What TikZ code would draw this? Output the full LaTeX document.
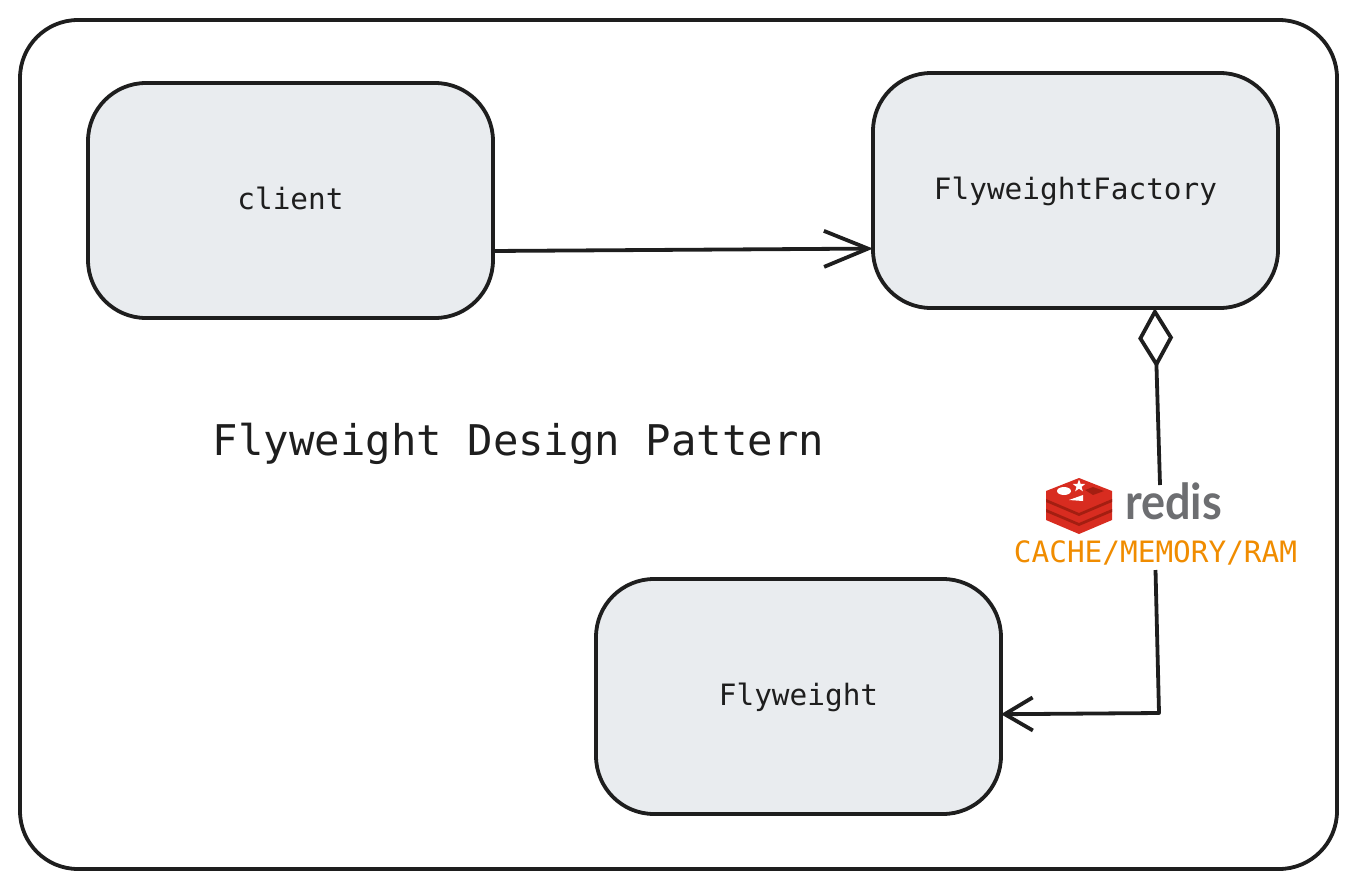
\documentclass[tikz,border=0pt]{standalone}
\usepackage{xcolor}
\usepackage{fontspec}
\setmainfont{Lato}
\setmonofont{DejaVu Sans Mono}
\usetikzlibrary{arrows.meta, positioning, shapes.geometric}
\definecolor{ink}{HTML}{1E1E1E}
\definecolor{boxfill}{HTML}{E9ECEF}
\definecolor{cacheorange}{HTML}{F08C00}
\definecolor{redislight}{HTML}{D82C20}
\definecolor{redisdark}{HTML}{A41E11}
\definecolor{redisgrey}{HTML}{6D6E71}
\tikzset{
  box/.style={rectangle, draw=ink, line width=3.8pt, fill=boxfill, rounded corners=58pt,
    minimum width=405pt, minimum height=235pt, outer sep=0pt, inner sep=0pt,
    text height=24pt, text depth=7pt,
    font=\ttfamily\fontsize{29.4}{34}\selectfont, text=ink},
  link/.style={draw=ink, line width=3.8pt, line join=round},
}
\begin{document}
\begin{tikzpicture}[x=1pt, y=-1pt]
  \useasboundingbox (0,0) rectangle (1356,889);
  \node[rectangle, draw=ink, line width=3.8pt, rounded corners=58pt, minimum width=1317pt, minimum height=849pt, outer sep=0pt] (frame) at (678.5,444.5) {};

  \node[box] (client) at (290.5,200.5) {client};
  \node[box] (factory) at (1075.5,190.5) {FlyweightFactory};
  \node[box] (flyweight) at (798.5,696.5) {Flyweight};

  \node[font=\ttfamily\fontsize{42.3}{50}\selectfont, text=ink, inner sep=0pt] (title) at (518.5,444) {Flyweight Design Pattern};
  \node[font=\ttfamily\fontsize{29.4}{34}\selectfont, text=cacheorange, inner sep=0pt, minimum height=34pt, outer sep=0pt] (cache) at (1155.5,553) {CACHE/MEMORY/RAM};
  \node[font=\fontsize{45}{50}\selectfont\bfseries, text=redisgrey, inner sep=0pt, yscale=1.1] (redis) at (1173.5,501) {redis};

  % logo
  \fill[redislight] (1046,491) -- (1079,478) -- (1112,491) -- (1112,520) -- (1079,534) -- (1046,520) -- cycle;
  \foreach \dy in {0,10} {
    \fill[redisdark, yshift=-\dy pt] (1046,499) -- (1079,513) -- (1112,499) -- (1112,502) -- (1079,516) -- (1046,502) -- cycle;
  }
  \fill[white] (1064,491) ellipse (7pt and 4pt);
  \node[star, star points=5, star point ratio=2.4, fill=white, inner sep=0pt, minimum size=13pt] (logostar) at (1079,486) {};
  \fill[white] (1069,500) -- (1083,495) -- (1083,501) -- cycle;
  \fill[redisdark] (1085,490) -- (1093,487) -- (1104,491) -- (1093,495) -- cycle;

  \coordinate (redisin) at (1160,485);
  \coordinate (bend) at (1159,713);

  \draw[link, -{Straight Barb[length=44pt, width=36pt, line width=3.8pt]}] (client.-14.6) -- (factory.196.2);
  \draw[link, {Diamond[open, length=60pt, width=35pt, line width=3.8pt]}-] (factory.-56.7) -- (redisin);
  \draw[link, -{Straight Barb[length=28pt, width=33pt, line width=3.8pt]}] (cache.south) -- (bend) -- (flyweight.-5.96);
\end{tikzpicture}
\end{document}
